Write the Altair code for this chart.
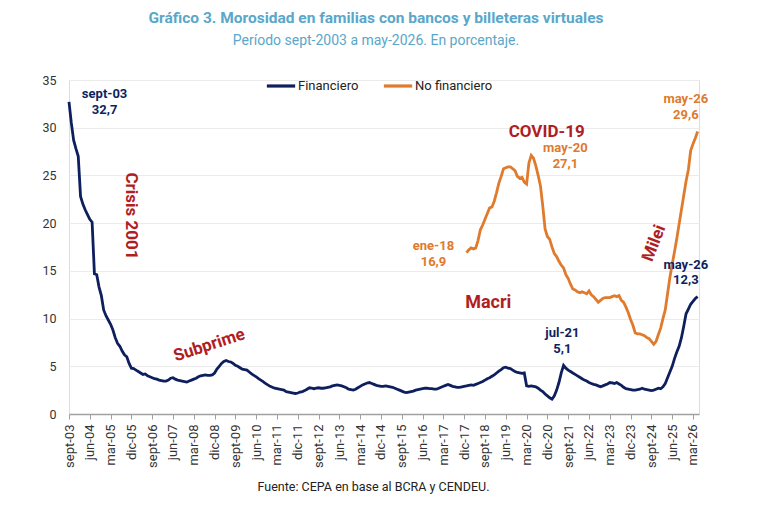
import json
import altair as alt
import pandas as pd

# ---------------- data (monthly, index 0 = sept-2003) ----------------
financiero = {
    2003: [32.7, 30.5, 28.7, 27.8],
    2004: [27.0, 22.8, 22.0, 21.4, 20.9, 20.4, 20.1, 14.7, 14.6, 13.3, 12.4, 10.9],
    2005: [10.3, 9.85, 9.4, 8.8, 8.0, 7.4, 7.1, 6.6, 6.2, 6.0, 5.3, 4.8],
    2006: [4.75, 4.6, 4.45, 4.3, 4.15, 4.2, 4.0, 3.9, 3.8, 3.7, 3.65, 3.55],
    2007: [3.5, 3.45, 3.45, 3.55, 3.75, 3.8, 3.65, 3.55, 3.5, 3.45, 3.4, 3.35],
    2008: [3.45, 3.55, 3.65, 3.75, 3.9, 4.0, 4.05, 4.1, 4.05, 4.05, 4.1, 4.3],
    2009: [4.7, 5.0, 5.3, 5.5, 5.6, 5.5, 5.45, 5.3, 5.1, 5.0, 4.85, 4.7],
    2010: [4.65, 4.6, 4.4, 4.2, 4.05, 3.9, 3.7, 3.55, 3.4, 3.2, 3.05, 2.9],
    2011: [2.8, 2.7, 2.65, 2.6, 2.55, 2.5, 2.35, 2.3, 2.25, 2.2, 2.15, 2.2],
    2012: [2.3, 2.35, 2.45, 2.6, 2.75, 2.7, 2.65, 2.7, 2.75, 2.7, 2.7, 2.75],
    2013: [2.8, 2.85, 2.95, 3.0, 3.05, 3.0, 2.95, 2.85, 2.75, 2.6, 2.55, 2.5],
    2014: [2.6, 2.75, 2.9, 3.05, 3.15, 3.25, 3.3, 3.2, 3.1, 3.0, 2.95, 2.9],
    2015: [2.9, 2.95, 2.9, 2.85, 2.8, 2.7, 2.6, 2.5, 2.4, 2.3, 2.25, 2.3],
    2016: [2.35, 2.4, 2.5, 2.55, 2.6, 2.65, 2.7, 2.7, 2.65, 2.65, 2.6, 2.6],
    2017: [2.7, 2.8, 2.9, 3.0, 3.1, 3.0, 2.9, 2.85, 2.8, 2.8, 2.85, 2.9],
    2018: [2.95, 3.0, 3.05, 3.0, 3.1, 3.2, 3.3, 3.4, 3.55, 3.7, 3.8, 3.95],
    2019: [4.1, 4.3, 4.5, 4.65, 4.85, 4.9, 4.8, 4.75, 4.6, 4.45, 4.35, 4.3],
    2020: [4.25, 4.3, 2.95, 2.9, 2.95, 2.9, 2.85, 2.7, 2.5, 2.35, 2.1, 1.9],
    2021: [1.7, 1.55, 1.9, 2.5, 3.3, 4.3, 5.1, 4.8, 4.6, 4.45, 4.3, 4.15],
    2022: [4.0, 3.85, 3.7, 3.55, 3.45, 3.3, 3.2, 3.1, 3.05, 2.95, 2.85, 2.95],
    2023: [3.05, 3.15, 3.3, 3.25, 3.2, 3.3, 3.15, 3.0, 2.8, 2.65, 2.6, 2.55],
    2024: [2.5, 2.5, 2.55, 2.6, 2.7, 2.6, 2.55, 2.5, 2.45, 2.5, 2.6, 2.7],
    2025: [2.65, 2.85, 3.2, 3.8, 4.4, 5.0, 5.8, 6.5, 7.1, 8.0, 9.2, 10.5],
    2026: [11.0, 11.5, 11.8, 12.1, 12.3],
}

# No financiero starts in ene-2018 (index 172)
no_financiero_start = 172
no_financiero = {
    2018: [16.9, 17.2, 17.4, 17.3, 17.4, 18.2, 19.3, 19.8, 20.4, 21.0, 21.6, 21.7],
    2019: [22.3, 23.2, 24.2, 24.9, 25.7, 25.8, 25.9, 25.9, 25.7, 25.5, 24.9, 24.7],
    2020: [24.8, 24.3, 24.1, 26.3, 27.1, 26.8, 26.0, 25.0, 23.9, 21.8, 19.4, 18.6],
    2021: [18.3, 17.5, 16.8, 16.5, 16.0, 15.6, 15.3, 14.6, 14.2, 13.6, 13.1, 13.0],
    2022: [12.8, 12.7, 12.8, 12.7, 12.6, 12.9, 12.5, 12.3, 12.0, 11.7, 11.9, 12.1],
    2023: [12.2, 12.2, 12.2, 12.3, 12.4, 12.3, 12.4, 11.9, 11.7, 11.2, 10.6, 9.9],
    2024: [9.3, 8.5, 8.4, 8.4, 8.3, 8.2, 8.0, 7.9, 7.6, 7.3, 7.6, 8.3],
    2025: [9.0, 10.0, 10.9, 12.6, 14.3, 15.7, 17.0, 18.4, 19.9, 21.4, 22.9, 24.4],
    2026: [25.6, 27.6, 28.3, 28.9, 29.6],
}

series_names = ["Financiero", "No financiero"]
series_colors = ["#0E1F5E", "#E07A2C"]

tick_positions = list(range(0, 271, 9))
tick_labels = ["sept-03", "jun-04", "mar-05", "dic-05", "sept-06", "jun-07", "mar-08",
               "dic-08", "sept-09", "jun-10", "mar-11", "dic-11", "sept-12", "jun-13",
               "mar-14", "dic-14", "sept-15", "jun-16", "mar-17", "dic-17", "sept-18",
               "jun-19", "mar-20", "dic-20", "sept-21", "jun-22", "mar-23", "dic-23",
               "sept-24", "jun-25", "mar-26"]

# annotations: text, x (month index), y (value), colour, size, angle
ann_text = ["sept-03", "32,7", "Crisis 2001", "Subprime", "COVID-19", "may-20", "27,1",
            "ene-18", "16,9", "Macri", "Milei", "may-26", "29,6", "may-26", "12,3",
            "jul-21", "5,1"]
ann_x = [15.4, 15.4, 26.8, 60.7, 206.7, 214.8, 214.8, 157.7, 157.7, 181.4, 253.2,
         266.9, 266.9, 266.9, 266.9, 213.5, 213.5]
ann_y = [33.5, 31.9, 20.75, 7.2, 29.55, 27.85, 26.25, 17.64, 15.97, 11.6, 17.9,
         32.99, 31.34, 15.6, 14.05, 8.46, 6.8]
RED = "#B01E22"
ann_color = [series_colors[0], series_colors[0], RED, RED, RED, series_colors[1],
             series_colors[1], series_colors[1], series_colors[1], RED, RED,
             series_colors[1], series_colors[1], series_colors[0], series_colors[0],
             series_colors[0], series_colors[0]]
ann_size = [13, 13, 17, 17, 17, 13, 13, 13, 13, 18, 17, 13, 13, 13, 13, 13, 13]
ann_angle = [0, 0, 90, 342, 0, 0, 0, 0, 0, 0, 291, 0, 0, 0, 0, 0, 0]

# ---------------- build tables ----------------
rows = []
i = 0
for yr in sorted(financiero):
    for v in financiero[yr]:
        rows.append({"i": i, "valor": v, "serie": series_names[0]})
        i += 1
i = no_financiero_start
for yr in sorted(no_financiero):
    for v in no_financiero[yr]:
        rows.append({"i": i, "valor": v, "serie": series_names[1]})
        i += 1
df = pd.DataFrame(rows)

ann = pd.DataFrame({"t": ann_text, "x": ann_x, "y": ann_y, "c": ann_color,
                    "s": ann_size, "a": ann_angle})

FONT = "Roboto"
label_expr = json.dumps(tick_labels) + "[round(datum.value / 9)]"

x_scale = alt.Scale(domain=[0, 272.6], nice=False, zero=False)
y_scale = alt.Scale(domain=[0, 35], nice=False)

x_axis = alt.Axis(values=tick_positions, labelExpr=label_expr, labelAngle=270,
                  labelAlign="right", labelBaseline="middle", labelFontSize=13,
                  labelColor="#333333", labelFont=FONT, labelPadding=5,
                  tickColor="#A0A0A0", tickSize=5, domainColor="#A0A0A0",
                  domainWidth=1.5, grid=False, labelOverlap=False, labelFlush=False,
                  labelBound=False,
                  title="Fuente: CEPA en base al BCRA y CENDEU.",
                  titleFont=FONT, titleFontSize=12.5, titleFontWeight="normal",
                  titleColor="#222222", titlePadding=13, titleX=304)
y_axis = alt.Axis(values=[0, 5, 10, 15, 20, 25, 30, 35], domain=False, ticks=False,
                  labelFontSize=12.5, labelColor="#333333", labelFont=FONT,
                  labelPadding=13, gridColor="#EBEBEB", gridWidth=1.2, title=None)

lines = alt.Chart(df).mark_line(strokeWidth=2.8, interpolate="linear").encode(
    x=alt.X("i:Q", scale=x_scale, axis=x_axis),
    y=alt.Y("valor:Q", scale=y_scale, axis=y_axis),
    color=alt.Color("serie:N",
                    scale=alt.Scale(domain=series_names, range=series_colors),
                    legend=alt.Legend(title=None, orient="none", direction="horizontal",
                                      legendX=196, legendY=-10, symbolType="stroke",
                                      symbolSize=800, symbolStrokeWidth=3.2,
                                      labelFont=FONT, labelFontSize=13,
                                      labelColor="#222222", labelOffset=1,
                                      columnPadding=18)),
    detail="serie:N",
)

texts = alt.Chart(ann).mark_text(font=FONT, fontWeight="bold", baseline="middle",
                                 align="center").encode(
    x=alt.X("x:Q", scale=x_scale, axis=x_axis),
    y=alt.Y("y:Q", scale=y_scale, axis=y_axis),
    text="t:N",
    color=alt.Color("c:N", scale=None, legend=None),
    size=alt.Size("s:Q", scale=None, legend=None),
    angle=alt.Angle("a:Q", scale=None, legend=None),
)

chart = alt.layer(lines, texts).resolve_scale(color="independent").properties(
    width=630, height=334,
    autosize=alt.AutoSizeParams(type="none"),
    padding={"left": 69, "top": 80, "right": 75, "bottom": 109},
    title=alt.TitleParams(
        text="Gráfico 3. Morosidad en familias con bancos y billeteras virtuales",
        subtitle="Período sept-2003 a may-2026. En porcentaje.",
        font=FONT, fontSize=15.5, fontWeight="bold", color="#5AA7C9",
        subtitleFont=FONT, subtitleFontSize=14, subtitleColor="#5AA7C9",
        subtitleFontWeight="normal", subtitlePadding=8, anchor="middle",
        offset=22, dx=-8),
).configure_view(stroke=None).configure(background="white")

chart.save("out.html", embed_options={"renderer": "svg", "actions": False})
